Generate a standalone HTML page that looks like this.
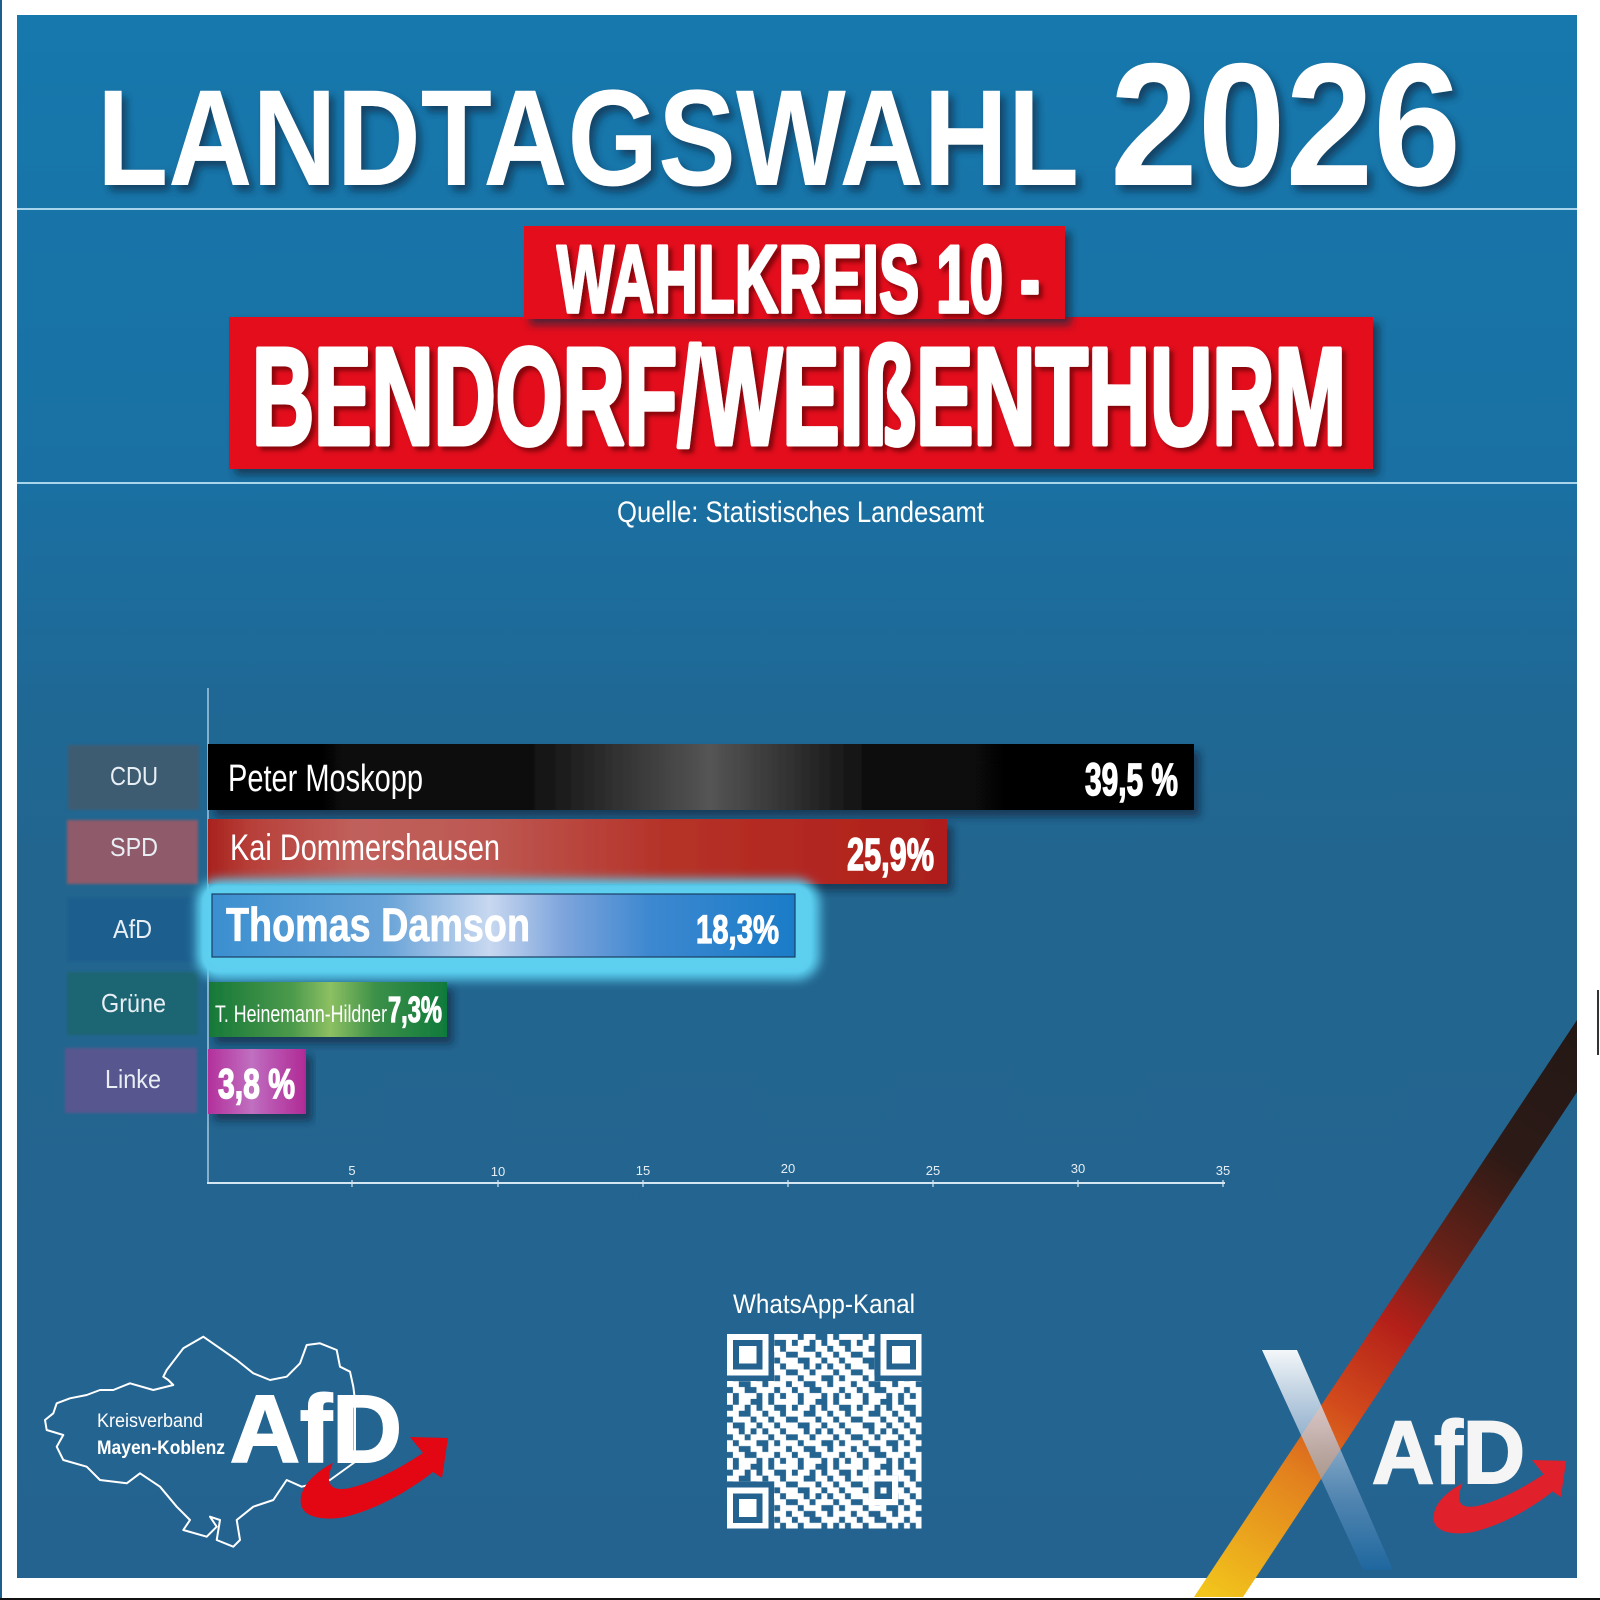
<!DOCTYPE html>
<html><head><meta charset="utf-8">
<style>html,body{margin:0;padding:0;background:#fff;}svg{display:block}</style>
</head>
<body>
<svg width="1600" height="1600" viewBox="0 0 1600 1600" xmlns="http://www.w3.org/2000/svg" font-family="'Liberation Sans', Arial, sans-serif">
<defs>
  <linearGradient id="bg" x1="0" y1="0" x2="0" y2="1">
    <stop offset="0" stop-color="#1678ad"/>
    <stop offset="0.3" stop-color="#1a70a2"/>
    <stop offset="0.44" stop-color="#1f6895"/>
    <stop offset="0.55" stop-color="#22668f"/>
    <stop offset="1" stop-color="#246390"/>
  </linearGradient>
  <filter id="tsh" x="-5%" y="-20%" width="115%" height="150%">
    <feDropShadow dx="5" dy="6" stdDeviation="4" flood-color="#0a3050" flood-opacity="0.75"/>
  </filter>
  <filter id="bsh" x="-5%" y="-20%" width="115%" height="150%">
    <feDropShadow dx="6" dy="6" stdDeviation="4" flood-color="#0a2640" flood-opacity="0.7"/>
  </filter>
  <filter id="rtsh" x="-5%" y="-20%" width="115%" height="150%">
    <feDropShadow dx="4" dy="4" stdDeviation="2" flood-color="#4a0000" flood-opacity="0.6"/>
  </filter>
  <filter id="barsh" x="-5%" y="-30%" width="115%" height="170%">
    <feDropShadow dx="6" dy="7" stdDeviation="4" flood-color="#082640" flood-opacity="0.65"/>
  </filter>
  <filter id="glow" x="-10%" y="-40%" width="120%" height="180%">
    <feGaussianBlur stdDeviation="5"/>
  </filter>
  <filter id="soft" x="-5%" y="-10%" width="110%" height="120%">
    <feGaussianBlur stdDeviation="1.2"/>
  </filter>
  <linearGradient id="gCDU" x1="0" y1="0" x2="1" y2="0">
    <stop offset="0" stop-color="#000"/>
    <stop offset="0.33" stop-color="#111"/>
    <stop offset="0.509" stop-color="#555"/>
    <stop offset="0.68" stop-color="#0a0a0a"/>
    <stop offset="1" stop-color="#000"/>
  </linearGradient>
  <linearGradient id="gSPD" x1="0" y1="0" x2="1" y2="0">
    <stop offset="0" stop-color="#a8221e"/>
    <stop offset="0.06" stop-color="#b8403a"/>
    <stop offset="0.2" stop-color="#c0605c"/>
    <stop offset="0.38" stop-color="#bd5852"/>
    <stop offset="0.62" stop-color="#b53228"/>
    <stop offset="1" stop-color="#b01e1a"/>
  </linearGradient>
  <linearGradient id="gAfD" x1="0" y1="0" x2="1" y2="0">
    <stop offset="0" stop-color="#3a8fd0"/>
    <stop offset="0.3" stop-color="#6aa4d8"/>
    <stop offset="0.476" stop-color="#c8d8f0"/>
    <stop offset="0.6" stop-color="#7fa5dc"/>
    <stop offset="0.75" stop-color="#3d88d0"/>
    <stop offset="1" stop-color="#1a7cc8"/>
  </linearGradient>
  <linearGradient id="gGr" x1="0" y1="0" x2="1" y2="0">
    <stop offset="0" stop-color="#167838"/>
    <stop offset="0.35" stop-color="#4c9a4c"/>
    <stop offset="0.51" stop-color="#8dc062"/>
    <stop offset="0.7" stop-color="#3c9048"/>
    <stop offset="1" stop-color="#0f7a3c"/>
  </linearGradient>
  <linearGradient id="gLi" x1="0" y1="0" x2="1" y2="0">
    <stop offset="0" stop-color="#b3309c"/>
    <stop offset="0.45" stop-color="#c070c0"/>
    <stop offset="0.55" stop-color="#bc60b8"/>
    <stop offset="1" stop-color="#b02a96"/>
  </linearGradient>
  <linearGradient id="gStripe" gradientUnits="userSpaceOnUse" x1="1577" y1="1020" x2="1210" y2="1597">
    <stop offset="0" stop-color="#231815"/>
    <stop offset="0.225" stop-color="#2d1a16"/>
    <stop offset="0.4" stop-color="#6a2218"/>
    <stop offset="0.52" stop-color="#b42019"/>
    <stop offset="0.66" stop-color="#d24a1c"/>
    <stop offset="0.78" stop-color="#e2801e"/>
    <stop offset="1" stop-color="#f2c51c"/>
  </linearGradient>
  <linearGradient id="gX" gradientUnits="userSpaceOnUse" x1="0" y1="1350" x2="0" y2="1570">
    <stop offset="0" stop-color="#ffffff" stop-opacity="0.95"/>
    <stop offset="0.35" stop-color="#c8d6e8" stop-opacity="0.75"/>
    <stop offset="0.7" stop-color="#6f9cc8" stop-opacity="0.55"/>
    <stop offset="1" stop-color="#1a6aa8" stop-opacity="0.6"/>
  </linearGradient>
  <pattern id="qr" patternUnits="userSpaceOnUse" width="11" height="11">
    <path fill="#fff" d="M0 0h1v1h-1z M2 0h2v1h-2z M6 0h1v1h-1z M8 0h3v1h-3z
    M1 1h2v1h-2z M4 1h1v1h-1z M6 1h2v1h-2z M10 1h1v1h-1z
    M0 2h2v1h-2z M4 2h2v1h-2z M7 2h2v1h-2z M10 2h1v1h-1z
    M1 3h3v1h-3z M5 3h2v1h-2z M8 3h2v1h-2z
    M0 4h1v1h-1z M3 4h2v1h-2z M6 4h2v1h-2z M9 4h2v1h-2z
    M0 5h2v1h-2z M3 5h1v1h-1z M5 5h1v1h-1z M7 5h2v1h-2z M10 5h1v1h-1z
    M1 6h2v1h-2z M4 6h3v1h-3z M8 6h2v1h-2z
    M0 7h1v1h-1z M2 7h3v1h-3z M7 7h1v1h-1z M9 7h2v1h-2z
    M0 8h2v1h-2z M4 8h2v1h-2z M7 8h3v1h-3z
    M1 9h2v1h-2z M5 9h3v1h-3z M9 9h2v1h-2z
    M0 10h1v1h-1z M2 10h3v1h-3z M6 10h1v1h-1z M8 10h1v1h-1z M10 10h1v1h-1z"/>
  </pattern>
</defs>

<!-- page frame -->
<rect x="0" y="0" width="1600" height="1600" fill="#fff"/>
<rect x="0" y="0" width="2" height="1600" fill="#1d5f8c"/>
<rect x="17" y="15" width="1560" height="1563" fill="url(#bg)"/>
<rect x="1597" y="990" width="2" height="65" fill="#333"/>

<!-- header -->
<text x="97" y="185" font-size="137" font-weight="bold" fill="#fff" textLength="982" lengthAdjust="spacingAndGlyphs" filter="url(#tsh)">LANDTAGSWAHL</text>
<text x="1110" y="185" font-size="175" font-weight="bold" fill="#fff" textLength="351" lengthAdjust="spacingAndGlyphs" filter="url(#tsh)">2026</text>
<rect x="17" y="208" width="1560" height="2" fill="#a8d4ec"/>

<!-- red banners -->
<rect x="229" y="317" width="1144" height="152" fill="#e3101c" filter="url(#bsh)"/>
<rect x="524" y="226" width="541" height="93" fill="#e3101c" filter="url(#bsh)"/>
<text x="557" y="312" font-size="96" font-weight="bold" fill="#fff" stroke="#fff" stroke-width="3.5" stroke-linejoin="round" textLength="483" lengthAdjust="spacingAndGlyphs" filter="url(#rtsh)">WAHLKREIS 10 -</text>
<text x="252" y="444" font-size="138" font-weight="bold" fill="#fff" stroke="#fff" stroke-width="5" stroke-linejoin="round" textLength="1094" lengthAdjust="spacingAndGlyphs" filter="url(#rtsh)">BENDORF/WEIßENTHURM</text>
<rect x="17" y="482" width="1560" height="2" fill="#a8d4ec"/>

<text x="617" y="522" font-size="30" fill="#fff" textLength="367" lengthAdjust="spacingAndGlyphs">Quelle: Statistisches Landesamt</text>

<!-- chart axes -->
<line x1="208" y1="688" x2="208" y2="1184" stroke="#a6c8df" stroke-width="1.5"/>
<line x1="207" y1="1183" x2="1225" y2="1183" stroke="#d4e6f2" stroke-width="2"/>
<g stroke="#d4e6f2" stroke-width="1.2">
  <line x1="352" y1="1180" x2="352" y2="1187"/>
  <line x1="498" y1="1180" x2="498" y2="1187"/>
  <line x1="643" y1="1180" x2="643" y2="1187"/>
  <line x1="788" y1="1180" x2="788" y2="1187"/>
  <line x1="933" y1="1180" x2="933" y2="1187"/>
  <line x1="1078" y1="1180" x2="1078" y2="1187"/>
  <line x1="1223" y1="1180" x2="1223" y2="1187"/>
</g>
<g font-size="13" fill="#e6eef5" text-anchor="middle">
  <text x="352" y="1175">5</text>
  <text x="498" y="1176">10</text>
  <text x="643" y="1175">15</text>
  <text x="788" y="1173">20</text>
  <text x="933" y="1175">25</text>
  <text x="1078" y="1173">30</text>
  <text x="1223" y="1175">35</text>
</g>

<!-- party label boxes -->
<g filter="url(#soft)">
  <rect x="68" y="745" width="131" height="65" fill="#3c5b72"/>
  <rect x="67" y="820" width="131" height="64" fill="#8f5a69"/>
  <rect x="67" y="897" width="131" height="65" fill="#1b5f8e"/>
  <rect x="67" y="972" width="131" height="63" fill="#1c6572"/>
  <rect x="65" y="1048" width="132" height="65" fill="#58578f"/>
</g>
<g font-size="26" fill="#e8eef4">
  <text x="110" y="785" textLength="48" lengthAdjust="spacingAndGlyphs">CDU</text>
  <text x="110" y="856" textLength="48" lengthAdjust="spacingAndGlyphs">SPD</text>
  <text x="113" y="938" textLength="39" lengthAdjust="spacingAndGlyphs">AfD</text>
  <text x="101" y="1012" textLength="65" lengthAdjust="spacingAndGlyphs">Grüne</text>
  <text x="105" y="1088" textLength="56" lengthAdjust="spacingAndGlyphs">Linke</text>
</g>

<!-- bars -->
<rect x="208" y="744" width="986" height="66" fill="url(#gCDU)" filter="url(#barsh)"/>
<text x="228" y="791" font-size="38" fill="#fff" textLength="195" lengthAdjust="spacingAndGlyphs">Peter Moskopp</text>
<text x="1085" y="795" font-size="45" font-weight="bold" fill="#fff" stroke="#fff" stroke-width="1.5" textLength="93" lengthAdjust="spacingAndGlyphs">39,5 %</text>

<rect x="208" y="819" width="739" height="65" fill="url(#gSPD)" filter="url(#barsh)"/>
<text x="230" y="860" font-size="37" fill="#fff" textLength="270" lengthAdjust="spacingAndGlyphs">Kai Dommershausen</text>
<text x="847" y="870" font-size="45" font-weight="bold" fill="#fff" stroke="#fff" stroke-width="1.5" textLength="87" lengthAdjust="spacingAndGlyphs">25,9%</text>

<rect x="196" y="879" width="624" height="101" rx="24" fill="#58cbec" filter="url(#glow)"/>
<rect x="202" y="885" width="610" height="88" rx="16" fill="#5fd0f0" opacity="0.8" filter="url(#soft)"/>
<rect x="212" y="894" width="583" height="63" fill="url(#gAfD)" stroke="#1a3f66" stroke-width="1.2"/>
<text x="226" y="941" font-size="47" font-weight="bold" fill="#fff" stroke="#fff" stroke-width="0.8" textLength="304" lengthAdjust="spacingAndGlyphs">Thomas Damson</text>
<text x="696" y="943" font-size="40" font-weight="bold" fill="#fff" stroke="#fff" stroke-width="1.2" textLength="83" lengthAdjust="spacingAndGlyphs">18,3%</text>

<rect x="209" y="982" width="238" height="55" fill="url(#gGr)" filter="url(#barsh)"/>
<text x="215" y="1022" font-size="24" fill="#fff" textLength="172" lengthAdjust="spacingAndGlyphs">T. Heinemann-Hildner</text>
<text x="388" y="1022" font-size="36" font-weight="bold" fill="#fff" stroke="#fff" stroke-width="1.2" textLength="54" lengthAdjust="spacingAndGlyphs">7,3%</text>

<rect x="208" y="1049" width="98" height="65" fill="url(#gLi)" filter="url(#barsh)"/>
<text x="218" y="1098" font-size="42" font-weight="bold" fill="#fff" stroke="#fff" stroke-width="1.5" textLength="77" lengthAdjust="spacingAndGlyphs">3,8 %</text>

<!-- WhatsApp QR -->
<text x="733" y="1313" font-size="27" fill="#fff" textLength="182" lengthAdjust="spacingAndGlyphs">WhatsApp-Kanal</text>
<g transform="translate(727,1334) scale(5.9)" shape-rendering="crispEdges">
  <rect x="0" y="0" width="33" height="33" fill="url(#qr)"/>
  <rect x="0" y="0" width="8" height="8" fill="#246390"/>
  <rect x="25" y="0" width="8" height="8" fill="#246390"/>
  <rect x="0" y="25" width="8" height="8" fill="#246390"/>
  <rect x="0" y="0" width="7" height="7" fill="#fff"/>
  <rect x="1" y="1" width="5" height="5" fill="#246390"/>
  <rect x="2" y="2" width="3" height="3" fill="#fff"/>
  <rect x="26" y="0" width="7" height="7" fill="#fff"/>
  <rect x="27" y="1" width="5" height="5" fill="#246390"/>
  <rect x="28" y="2" width="3" height="3" fill="#fff"/>
  <rect x="0" y="26" width="7" height="7" fill="#fff"/>
  <rect x="1" y="27" width="5" height="5" fill="#246390"/>
  <rect x="2" y="28" width="3" height="3" fill="#fff"/>
  <rect x="24" y="24" width="5" height="5" fill="#fff"/>
  <rect x="25" y="25" width="3" height="3" fill="#246390"/>
  <rect x="26" y="26" width="1" height="1" fill="#fff"/>
</g>

<!-- bottom-left logo -->
<path fill="none" stroke="#fff" stroke-width="2" stroke-linejoin="round"
 d="M166.7,1370 L183.3,1348.3 L203.3,1336.7 L220,1348.3 L236.7,1360 L253.3,1373.3 L270,1380 L286.7,1376.7 L300,1363.3 L306.7,1345 L320,1343.3 L336.7,1350 L340,1366.7 L350,1371.7 L353.3,1386.7 L355,1400 L355,1462 L330,1480 L301.7,1486.7 L286.7,1480 L273.3,1500 L253.3,1506.7 L236.7,1520 L240,1540 L233.3,1546.7 L216.7,1540 L220,1520 L210,1516.7 L216.7,1526.7 L206.7,1536.7 L183.3,1530 L190,1520 L176.7,1506.7 L160,1486.7 L140,1473.3 L126.7,1483.3 L100,1480 L86.7,1466.7 L63.3,1460 L56.7,1446.7 L63.3,1435 L46.7,1430 L45,1420 L53.3,1413.3 L56.7,1403.3 L70,1398.3 L86.7,1395 L100,1390 L113.3,1390 L130,1383.3 L153.3,1390 L173.3,1385 L168.3,1380 L163.3,1376.7 Z"/>
<text x="97" y="1427" font-size="19" fill="#fff" textLength="106" lengthAdjust="spacingAndGlyphs">Kreisverband</text>
<text x="97" y="1454" font-size="19" font-weight="bold" fill="#fff" textLength="128" lengthAdjust="spacingAndGlyphs">Mayen-Koblenz</text>
<text x="230" y="1462" font-size="96" font-weight="bold" fill="#fff" stroke="#fff" stroke-width="2" textLength="172" lengthAdjust="spacingAndGlyphs">AfD</text>
<path fill="#e30613" d="M333,1463 C315,1472 298,1488 301,1505 C305,1520 330,1520 345,1517 C380,1508 410,1490 433,1472 L442,1478 L448,1438 L410,1437 L423,1453 C400,1468 375,1482 350,1488 C335,1491 322,1488 333,1463 Z"/>

<!-- bottom-right logo -->
<polygon points="1577,1020 1577,1092 1243,1597 1194,1597" fill="url(#gStripe)"/>
<polygon points="1262,1350 1297,1350 1393,1570 1363,1570" fill="url(#gX)"/>
<text x="1372" y="1483" font-size="89" font-weight="bold" fill="#f5f5f5" stroke="#f5f5f5" stroke-width="2" textLength="153" lengthAdjust="spacingAndGlyphs">AfD</text>
<path fill="#e0202a" transform="translate(1433,1460) scale(0.9) translate(-300,-1437)" d="M333,1463 C315,1472 298,1488 301,1505 C305,1520 330,1520 345,1517 C380,1508 410,1490 433,1472 L442,1478 L448,1438 L410,1437 L423,1453 C400,1468 375,1482 350,1488 C335,1491 322,1488 333,1463 Z"/>

<rect x="0" y="1598" width="1600" height="2" fill="#111"/>
</svg>
</body>
</html>
